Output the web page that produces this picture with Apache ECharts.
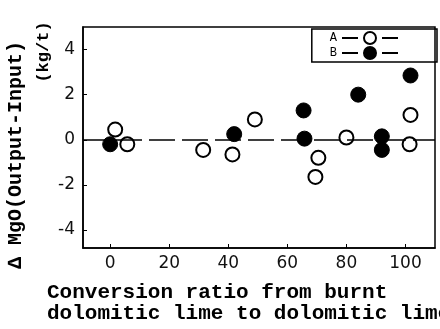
<!DOCTYPE html>
<html>
<head>
<meta charset="utf-8">
<script src="https://cdn.jsdelivr.net/npm/echarts@6/dist/echarts.min.js"></script>
<style>html,body{margin:0;padding:0;background:#fff}#c{width:440px;height:329px}</style>
</head>
<body>
<div id="c"></div>
<script>
// Series A (open circles): [conversion ratio %, delta MgO kg/t]
var seriesA = [[1.7, 0.45], [5.8, -0.2], [31.5, -0.45], [41.4, -0.65], [49, 0.9], [70.5, -0.8], [69.5, -1.65], [80, 0.1], [101.7, 1.1], [101.4, -0.2]];
// Series B (filled circles)
var seriesB = [[0, -0.2], [42, 0.25], [65.5, 1.3], [65.8, 0.05], [84, 2.0], [92, 0.15], [92, -0.45], [101.7, 2.85]];
var xTicks = [0, 20, 40, 60, 80, 100];
var yTicks = [-4, -2, 0, 2, 4];
var yTitle = "\u2206 MgO(Output-Input)";
var yUnit = "(kg/t)";
var xTitle1 = "Conversion ratio from burnt";
var xTitle2 = "dolomitic lime to dolomitic lime";

var chart = echarts.init(document.getElementById('c'));
var mono = "'Liberation Mono', 'DejaVu Sans Mono', monospace";
var iconPath = 'path://M0,7L16,7M40,7L56,7M22,7A6,6,0,1,1,34,7A6,6,0,1,1,22,7Z';
chart.setOption({
  animation: false,
  backgroundColor: '#fff',
  grid: {left: 83, right: 5, top: 27, bottom: 81, show: true, borderColor: '#000', borderWidth: 1.5, backgroundColor: 'transparent'},
  legend: {
    orient: 'vertical', right: 3, top: 29, align: 'right',
    itemWidth: 56, itemHeight: 14, itemGap: 1,
    padding: [2, 38, 2, 18],
    borderColor: '#000', borderWidth: 1.5,
    textStyle: {fontFamily: mono, fontSize: 12, color: '#000'},
    data: [
      {name: 'A', icon: iconPath, itemStyle: {color: '#fff', borderColor: '#000', borderWidth: 2}},
      {name: 'B', icon: iconPath, itemStyle: {color: '#000', borderColor: '#000', borderWidth: 2}}
    ]
  },
  xAxis: {
    type: 'value', min: -9.2, max: 110,
    axisLine: {onZero: false, lineStyle: {color: '#000', width: 1.5}},
    axisTick: {show: true, inside: true, length: 4, customValues: xTicks, lineStyle: {color: '#000'}},
    axisLabel: {customValues: xTicks, margin: 7, fontFamily: "'DejaVu Sans', sans-serif", fontSize: 17, color: '#111'},
    splitLine: {show: false}
  },
  yAxis: {
    type: 'value', min: -4.8, max: 5.0,
    axisLine: {show: true, onZero: false, lineStyle: {color: '#000', width: 1.5}},
    axisTick: {show: true, inside: true, length: 4, customValues: yTicks, lineStyle: {color: '#000'}},
    axisLabel: {customValues: yTicks, margin: 8, fontFamily: "'DejaVu Sans', sans-serif", fontSize: 17, color: '#111'},
    splitLine: {show: false}
  },
  series: [
    {
      name: 'A', type: 'scatter', data: seriesA, symbol: 'circle', symbolSize: 14, z: 3,
      itemStyle: {color: '#fff', borderColor: '#000', borderWidth: 2, opacity: 1},
      markLine: {
        silent: true, symbol: 'none', label: {show: false},
        lineStyle: {color: '#000', width: 1.5, type: [26, 7]},
        data: [{yAxis: 0}]
      }
    },
    {
      name: 'B', type: 'scatter', data: seriesB, symbol: 'circle', symbolSize: 15, z: 4,
      itemStyle: {color: '#000', borderColor: '#000', borderWidth: 1, opacity: 1}
    }
  ],
  graphic: [
    {type: 'text', x: 16, y: 155, rotation: Math.PI / 2,
     style: {text: yTitle, font: "bold 20px " + mono, fill: '#000', textAlign: 'center', textVerticalAlign: 'middle'}},
    {type: 'text', x: 44, y: 52, rotation: Math.PI / 2,
     style: {text: yUnit, font: "bold 17px " + mono, fill: '#000', textAlign: 'center', textVerticalAlign: 'middle'}},
    {type: 'text', x: 47, y: 293,
     style: {text: xTitle1, font: "bold 21px " + mono, fill: '#000', textAlign: 'left', textVerticalAlign: 'middle'}},
    {type: 'text', x: 47, y: 314,
     style: {text: xTitle2, font: "bold 21px " + mono, fill: '#000', textAlign: 'left', textVerticalAlign: 'middle'}}
  ]
});
</script>
</body>
</html>
